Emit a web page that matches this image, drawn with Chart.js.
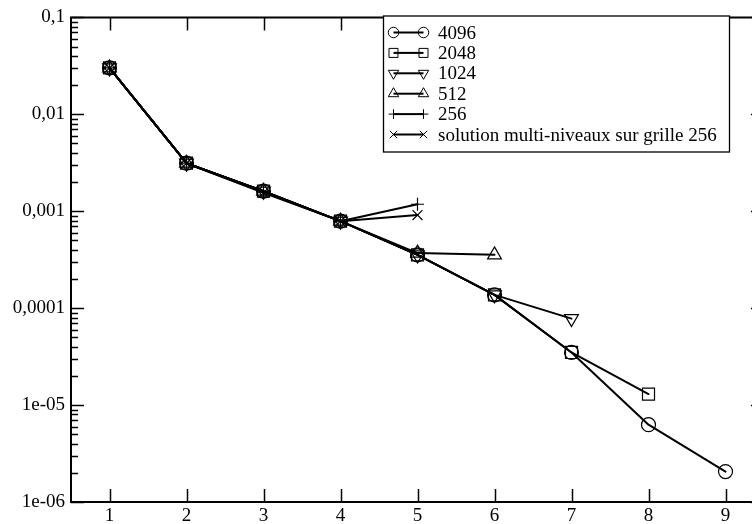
<!DOCTYPE html>
<html>
<head>
<meta charset="utf-8">
<script src="https://cdn.jsdelivr.net/npm/chart.js@4/dist/chart.umd.min.js"></script>
<style>
html,body{margin:0;padding:0;overflow:hidden;background:#fff;}
#wrap{width:780px;height:524px;}
</style>
</head>
<body>
<div id="wrap"><canvas id="c" width="780" height="524"></canvas></div>
<script>
const xValues = [1, 2, 3, 4, 5, 6, 7, 8, 9];
const xTicks = [1, 2, 3, 4, 5, 6, 7, 8, 9];
const yTickValues = [1e-6, 1e-5, 1e-4, 1e-3, 1e-2, 1e-1];
const yTickLabels = ['1e-06', '1e-05', '0,0001', '0,001', '0,01', '0,1'];
const seriesLabels = ['4096', '2048', '1024', '512', '256', 'solution multi-niveaux sur grille 256'];
const s4096 = [0.0301, 0.00313, 0.00161, 0.00079, 0.000354, 0.000137, 3.49e-5, 6.28e-6, 2.06e-6];
const s2048 = [0.0301, 0.00313, 0.00161, 0.00079, 0.000354, 0.000137, 3.49e-5, 1.30e-5];
const s1024 = [0.0301, 0.00313, 0.00161, 0.00079, 0.000354, 0.000137, 7.8e-5];
const s512  = [0.0301, 0.00313, 0.00161, 0.00079, 0.00037, 0.000355];
const s256  = [0.0301, 0.00313, 0.00158, 0.00079, 0.00118];
const sMulti = [0.0301, 0.00313, 0.00155, 0.00079, 0.000914];

const FONT = "'Liberation Serif', 'DejaVu Serif', serif";
const toPts = arr => arr.map((v, i) => ({x: xValues[i], y: v}));

const styles = [
  {pointStyle: 'circle', radius: 7, rotation: 0},
  {pointStyle: 'rect', radius: 8.5, rotation: 0},
  {pointStyle: 'triangle', radius: 8, rotation: 180},
  {pointStyle: 'triangle', radius: 8, rotation: 0},
  {pointStyle: 'cross', radius: 6.5, rotation: 0},
  {pointStyle: 'crossRot', radius: 7, rotation: 0}
];
const allSeries = [s4096, s2048, s1024, s512, s256, sMulti];

const datasets = allSeries.map((s, i) => ({
  label: seriesLabels[i],
  data: toPts(s),
  borderColor: '#000',
  borderWidth: 2,
  backgroundColor: 'rgba(0,0,0,0)',
  pointStyle: styles[i].pointStyle,
  pointRadius: styles[i].radius,
  pointRotation: styles[i].rotation,
  pointBorderColor: '#000',
  pointBackgroundColor: 'rgba(0,0,0,0)',
  pointBorderWidth: 1.2,
  fill: false,
  tension: 0
}));

const framePlugin = {
  id: 'frame',
  afterDraw(chart) {
    const ctx = chart.ctx;
    const a = chart.chartArea;
    const xs = chart.scales.x, ys = chart.scales.y;
    ctx.save();
    ctx.strokeStyle = '#000';
    ctx.lineWidth = 2;
    ctx.beginPath();
    ctx.rect(a.left, a.top, a.right - a.left, a.bottom - a.top);
    ctx.stroke();
    ctx.lineWidth = 1.5;
    ctx.beginPath();
    xTicks.forEach(v => {
      const px = Math.round(xs.getPixelForValue(v)) + 0.5;
      ctx.moveTo(px, a.bottom); ctx.lineTo(px, a.bottom - 13);
      ctx.moveTo(px, a.top); ctx.lineTo(px, a.top + 13);
    });
    yTickValues.forEach(v => {
      const py = Math.round(ys.getPixelForValue(v)) + 0.5;
      ctx.moveTo(a.left, py); ctx.lineTo(a.left + 13, py);
      ctx.moveTo(a.right, py); ctx.lineTo(a.right - 13, py);
    });
    for (let e = -6; e < -1; e++) {
      for (let m = 2; m <= 9; m++) {
        const py = Math.round(ys.getPixelForValue(m * Math.pow(10, e))) + 0.5;
        ctx.moveTo(a.left, py); ctx.lineTo(a.left + 7, py);
        ctx.moveTo(a.right, py); ctx.lineTo(a.right - 7, py);
      }
    }
    ctx.stroke();

    // legend box
    const bx = 383, by = 16, bw = 346, bh = 136;
    ctx.fillStyle = '#fff';
    ctx.fillRect(bx, by, bw, bh);
    ctx.lineWidth = 1.3;
    ctx.strokeRect(bx + 0.5, by, bw, bh);
    ctx.font = '19px ' + FONT;
    ctx.textBaseline = 'alphabetic';
    ctx.textAlign = 'left';
    chart.data.datasets.forEach((ds, i) => {
      const base = 38.5 + i * 20.4;
      const cy = base - 6;
      const x1 = 393.5, x2 = 423.5;
      ctx.strokeStyle = '#000';
      ctx.lineWidth = 2;
      ctx.beginPath();
      ctx.moveTo(x1, cy); ctx.lineTo(x2, cy);
      ctx.stroke();
      ctx.lineWidth = 1;
      ctx.fillStyle = 'rgba(0,0,0,0)';
      const opts = {pointStyle: ds.pointStyle, rotation: ds.pointRotation, radius: ds.pointRadius * 0.75, borderWidth: 1};
      Chart.helpers.drawPoint(ctx, opts, x1, cy);
      Chart.helpers.drawPoint(ctx, opts, x2, cy);
      ctx.fillStyle = '#000';
      ctx.fillText(ds.label, 438, base);
    });
    ctx.restore();
  }
};

new Chart(document.getElementById('c'), {
  type: 'line',
  data: {datasets},
  options: {
    responsive: false,
    animation: false,
    layout: {padding: {top: 16, right: 16, left: 0, bottom: 0}},
    plugins: {legend: {display: false}, tooltip: {enabled: false}},
    elements: {line: {borderCapStyle: 'round', borderJoinStyle: 'round'}},
    scales: {
      x: {
        type: 'linear',
        min: 0.5, max: 9.5,
        afterBuildTicks: s => { s.ticks = xTicks.map(v => ({value: v})); },
        afterFit: s => { s.height = 22; },
        grid: {display: false, drawTicks: false},
        border: {display: false},
        ticks: {color: '#000', font: {family: FONT, size: 19}, padding: 3, maxRotation: 0, autoSkip: false, callback: v => String(v)}
      },
      y: {
        type: 'logarithmic',
        min: 1e-6, max: 0.1,
        afterBuildTicks: s => { s.ticks = yTickValues.map(v => ({value: v})); },
        afterFit: s => { s.width = 71; },
        grid: {display: false, drawTicks: false},
        border: {display: false},
        ticks: {color: '#000', font: {family: FONT, size: 19}, padding: 6, autoSkip: false,
          callback: (v, i) => yTickLabels[i]}
      }
    }
  },
  plugins: [framePlugin]
});
</script>
</body>
</html>
